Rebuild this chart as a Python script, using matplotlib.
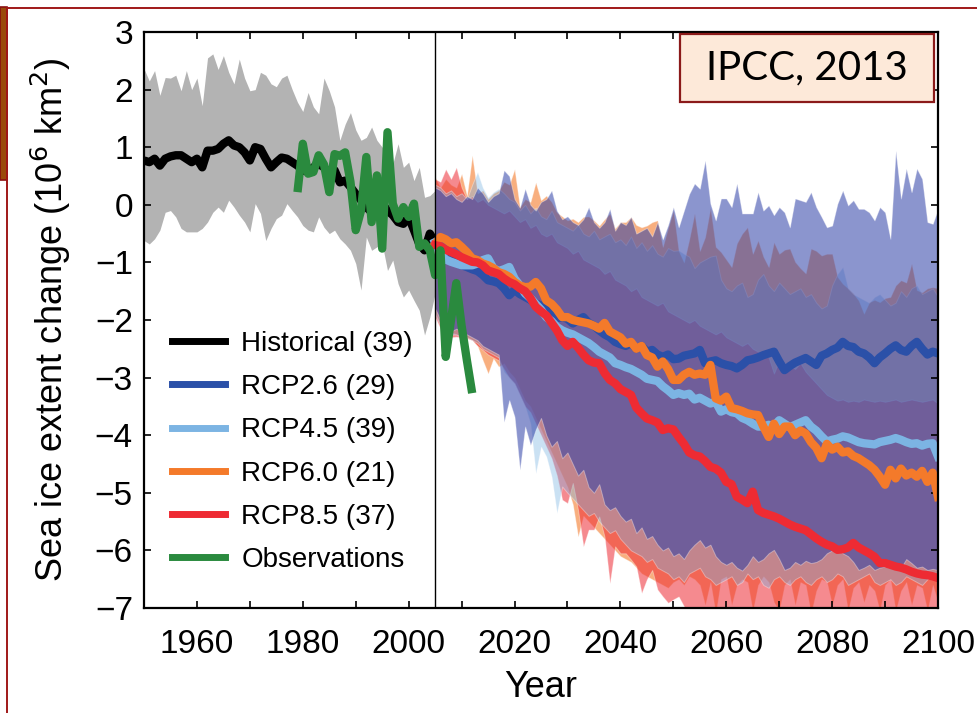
import numpy as np
import matplotlib
import matplotlib.pyplot as plt
from matplotlib.colors import to_rgba
from matplotlib.patches import Rectangle
from matplotlib.lines import Line2D

plt.rcParams['font.family'] = ['Liberation Sans', 'DejaVu Sans']

# ---------------- data ----------------
hist_years = np.arange(1950, 2006)
hist_upper = [2.36, 2.15, 2.33, 1.90, 2.21, 2.20, 2.25, 1.98, 2.33, 2.00,
              2.20, 1.72, 2.55, 2.62, 2.35, 2.59, 2.30, 2.10, 2.53, 2.20,
              1.98, 2.00, 2.30, 2.25, 2.10, 2.05, 2.20, 2.25, 2.00, 1.78,
              1.62, 1.95, 1.70, 1.58, 2.20, 1.98, 1.70, 1.12, 1.40, 1.60,
              1.30, 1.12, 1.17, 1.35, 1.12, 1.00, 1.00, 0.71, 1.06, 0.65,
              0.74, 0.42, 0.65, 0.13, 0.16, 0.25]
hist_lower = [-0.62, -0.68, -0.59, -0.44, -0.13, -0.10, -0.21, -0.41, -0.47, -0.47,
              -0.47, -0.41, -0.30, -0.13, -0.04, -0.13, 0.08, -0.04, -0.18, -0.30,
              -0.47, 0.02, -0.15, -0.62, -0.41, -0.24, -0.18, 0.02, -0.10, -0.21,
              -0.36, -0.44, -0.47, -0.21, -0.39, -0.50, -0.44, -0.59, -0.68, -0.79,
              -1.02, -1.48, -0.56, -0.79, -0.73, -0.68, -1.14, -0.96, -1.37, -1.60,
              -1.48, -1.66, -1.83, -2.26, -1.95, -1.54]
hist_mean = [0.77, 0.74, 0.80, 0.68, 0.80, 0.84, 0.86, 0.86, 0.80, 0.74,
             0.80, 0.65, 0.94, 0.94, 0.97, 1.06, 1.12, 1.03, 1.00, 0.91,
             0.77, 1.00, 0.97, 0.80, 0.65, 0.74, 0.82, 0.80, 0.74, 0.68,
             0.60, 0.57, 0.65, 0.71, 0.65, 0.54, 0.60, 0.39, 0.42, 0.31,
             0.19, 0.08, -0.04, -0.13, -0.13, 0.02, -0.10, -0.18, -0.30, -0.33,
             -0.21, -0.44, -0.68, -0.79, -0.50, -0.65]

obs_years = np.arange(1979, 2013)
obs = [0.22, 1.06, 0.54, 0.57, 0.86, 0.70, 0.22, 0.88, 0.85, 0.91,
       0.40, -0.44, -0.10, 0.83, -0.30, 0.51, -0.76, 1.26, 0.02, -0.24,
       -0.04, -0.21, 0.02, -0.73, -0.67, -0.79, -1.22, -0.79, -2.64, -2.00,
       -1.36, -2.10, -2.70, -3.27]

rcp_years = np.arange(2005, 2101)

rcp26_mean = [-0.65, -0.80, -0.90, -0.95, -1.00,
              -1.05, -1.08, -1.12, -1.15, -1.22, -1.31, -1.33, -1.36, -1.45, -1.57,
              -1.48, -1.55, -1.60, -1.65, -1.71, -1.75, -1.82, -1.90, -1.97, -1.95,
              -1.98, -2.06, -2.00, -1.95, -2.05, -2.10, -2.18, -2.25, -2.30, -2.38,
              -2.42, -2.45, -2.40, -2.50, -2.45, -2.55, -2.52, -2.60, -2.64, -2.60,
              -2.68, -2.67, -2.62, -2.60, -2.58, -2.52, -2.75, -2.72, -2.70, -2.75,
              -2.78, -2.80, -2.84, -2.78, -2.70, -2.68, -2.65, -2.61, -2.58, -2.55,
              -2.72, -2.87, -2.80, -2.74, -2.70, -2.66, -2.72, -2.78, -2.62, -2.58,
              -2.52, -2.48, -2.38, -2.45, -2.47, -2.55, -2.58, -2.65, -2.75, -2.65,
              -2.58, -2.50, -2.44, -2.52, -2.55, -2.45, -2.38, -2.50, -2.60, -2.55,
              -2.58]
rcp45_mean = [-0.65, -0.85, -0.95, -0.99, -1.02,
              -1.05, -1.05, -1.05, -1.02, -0.96, -0.93, -1.10, -1.15, -1.12, -1.08,
              -1.28, -1.40, -1.54, -1.62, -1.72, -1.82, -1.95, -2.02, -2.12, -2.18,
              -2.22, -2.25, -2.30, -2.35, -2.40, -2.47, -2.55, -2.60, -2.65, -2.75,
              -2.78, -2.82, -2.85, -2.90, -2.95, -3.02, -3.04, -3.06, -3.15, -3.22,
              -3.30, -3.27, -3.30, -3.28, -3.38, -3.35, -3.40, -3.45, -3.42, -3.59,
              -3.55, -3.60, -3.62, -3.70, -3.74, -3.80, -3.85, -3.85, -3.82, -3.84,
              -3.74, -3.80, -3.86, -3.82, -3.78, -3.74, -3.85, -3.92, -4.02, -4.11,
              -4.08, -4.06, -4.02, -4.04, -4.08, -4.12, -4.14, -4.15, -4.16, -4.12,
              -4.10, -4.08, -4.05, -4.08, -4.12, -4.15, -4.14, -4.18, -4.15, -4.14,
              -4.37]
rcp60_mean = [-0.68, -0.56, -0.60, -0.67, -0.65,
              -0.73, -0.82, -0.93, -0.96, -1.02, -1.05, -1.10, -1.17, -1.20, -1.25,
              -1.34, -1.40, -1.43, -1.42, -1.34, -1.45, -1.66, -1.72, -1.82, -1.95,
              -1.95, -2.00, -2.02, -2.04, -2.06, -2.10, -2.15, -2.05, -2.20, -2.25,
              -2.30, -2.41, -2.38, -2.50, -2.45, -2.61, -2.65, -2.81, -2.72, -2.85,
              -3.04, -3.04, -2.95, -2.90, -2.95, -2.93, -2.95, -2.78, -3.36, -3.40,
              -3.33, -3.53, -3.55, -3.58, -3.62, -3.64, -3.65, -3.85, -4.03, -3.80,
              -3.98, -3.85, -3.85, -4.00, -3.92, -3.97, -4.12, -4.22, -4.40, -4.15,
              -4.25, -4.20, -4.30, -4.28, -4.36, -4.40, -4.46, -4.52, -4.60, -4.72,
              -4.86, -4.60, -4.75, -4.58, -4.70, -4.65, -4.72, -4.62, -4.81, -4.65,
              -5.07]
rcp85_mean = [-0.70, -0.72, -0.78, -0.82, -0.86,
              -0.91, -0.95, -0.99, -1.00, -1.05, -1.14, -1.17, -1.20, -1.28, -1.34,
              -1.38, -1.45, -1.50, -1.62, -1.77, -1.85, -1.92, -2.05, -2.18, -2.35,
              -2.45, -2.38, -2.48, -2.60, -2.70, -2.74, -2.75, -2.92, -3.04, -3.10,
              -3.20, -3.25, -3.30, -3.52, -3.62, -3.71, -3.74, -3.78, -3.91, -3.88,
              -3.90, -4.03, -4.15, -4.30, -4.35, -4.37, -4.45, -4.55, -4.58, -4.65,
              -4.81, -4.85, -5.07, -5.12, -5.18, -4.98, -5.30, -5.35, -5.38, -5.41,
              -5.45, -5.50, -5.55, -5.59, -5.62, -5.65, -5.72, -5.79, -5.85, -5.90,
              -5.93, -5.99, -5.98, -5.95, -5.87, -5.95, -6.00, -6.05, -6.11, -6.22,
              -6.22, -6.25, -6.28, -6.30, -6.33, -6.37, -6.40, -6.42, -6.43, -6.45,
              -6.48]

rcp26_upper = [0.30, 0.25, 0.15, 0.20, 0.10,
               0.05, 0.15, 0.10, 0.30, 0.20, 0.05, 0.15, 0.20, 0.60, 0.50,
               0.10, -0.05, 0.28, 0.00, -0.10, 0.05, 0.10, 0.25, -0.10, -0.25,
               -0.20, -0.30, -0.35, -0.25, -0.04, -0.30, -0.40, -0.30, -0.07, -0.45,
               -0.30, -0.35, -0.21, -0.50, -0.45, -0.40, -0.55, -0.30, -0.60, -0.35,
               -0.04, -0.39, -0.10, 0.19, 0.37, 0.28, 0.77, 0.02, -0.27, 0.11,
               0.11, -0.04, 0.37, -0.15, -0.15, -0.15, 0.22, -0.10, -0.01, -0.18,
               -0.04, -0.13, -0.39, 0.11, 0.08, 0.05, 0.22, -0.04, -0.21, -0.39,
               -0.36, 0.02, 0.25, -0.01, 0.08, -0.07, -0.07, -0.13, -0.27, -0.04,
               -0.13, -0.59, 0.94, 0.11, 0.63, 0.22, 0.63, 0.45, -0.30, -0.33,
               -0.07]
rcp26_lower = [-1.80, -2.00, -2.10, -2.20, -2.15,
               -2.20, -2.25, -2.30, -2.35, -2.45, -2.50, -2.55, -2.60, -3.77, -3.39,
               -3.68, -4.60, -3.85, -4.17, -3.90, -3.70, -4.00, -4.20, -4.10, -4.40,
               -4.30, -4.50, -4.70, -4.60, -4.90, -5.00, -4.85, -5.20, -5.30, -5.25,
               -5.40, -5.50, -5.45, -5.70, -5.60, -5.80, -5.75, -5.90, -6.00, -5.95,
               -6.10, -6.05, -6.15, -6.00, -5.90, -5.82, -5.95, -5.90, -6.10, -6.20,
               -6.25, -6.20, -6.30, -6.35, -6.25, -6.10, -6.20, -6.15, -6.05, -5.99,
               -6.15, -6.34, -6.30, -6.20, -6.25, -6.18, -6.22, -6.20, -6.15, -6.05,
               -6.00, -5.93, -6.05, -6.10, -6.20, -6.34, -6.30, -6.25, -6.34, -6.30,
               -6.28, -6.20, -6.25, -6.30, -6.15, -6.22, -6.30, -6.28, -6.34, -6.32,
               -6.34]
rcp45_upper = [0.35, 0.30, 0.20, 0.25, 0.15,
               0.20, 0.10, 0.35, 0.57, 0.30, 0.13, 0.22, 0.28, 0.20, 0.10,
               0.05, -0.10, 0.00, -0.15, -0.05, -0.20, -0.25, -0.10, -0.30, -0.35,
               -0.40, -0.45, -0.35, -0.50, -0.55, -0.45, -0.60, -0.55, -0.50, -0.65,
               -0.60, -0.70, -0.55, -0.75, -0.65, -0.80, -0.70, -0.85, -0.90, -0.75,
               -0.80, -0.79, -0.85, -0.90, -1.10, -1.00, -0.95, -0.90, -0.88, -1.30,
               -1.45, -1.50, -1.40, -1.35, -1.60, -1.55, -1.30, -1.20, -1.40, -1.50,
               -1.35, -1.45, -1.55, -1.50, -1.45, -1.60, -1.55, -1.70, -1.80, -1.75,
               -1.40, -1.20, -1.08, -1.45, -1.55, -1.60, -1.65, -1.70, -1.60, -1.55,
               -1.65, -1.75, -1.70, -1.50, -1.60, -1.45, -1.40, -1.55, -1.50, -1.45,
               -1.60]
rcp45_lower = [-1.90, -2.10, -2.20, -2.25, -2.25,
               -2.30, -2.30, -2.35, -2.40, -2.50, -2.55, -2.60, -2.65, -2.90, -3.00,
               -3.10, -3.30, -3.50, -3.80, -4.66, -4.20, -4.37, -4.72, -5.35, -4.89,
               -5.00, -5.10, -5.20, -5.30, -5.40, -5.35, -5.50, -5.60, -5.70, -5.65,
               -5.80, -5.90, -6.00, -6.05, -6.10, -6.20, -6.15, -6.30, -6.35, -6.40,
               -6.50, -6.45, -6.55, -6.40, -6.35, -6.30, -6.45, -6.50, -6.60, -6.55,
               -6.50, -6.45, -6.60, -6.55, -6.40, -6.50, -6.45, -6.60, -6.65, -6.50,
               -6.45, -6.55, -6.60, -6.50, -6.45, -6.55, -6.60, -6.50, -6.45, -6.55,
               -6.50, -6.40, -6.45, -6.60, -6.55, -6.50, -6.45, -6.40, -6.55, -6.60,
               -6.55, -6.50, -6.60, -6.55, -6.45, -6.50, -6.55, -6.60, -6.50, -6.45,
               -6.50]
rcp60_upper = [0.48, 0.30, 0.45, 0.35, 0.30,
               0.54, 0.16, 0.86, 0.20, 0.25, 0.10, 0.20, 0.25, 0.40, 0.35,
               0.62, -0.04, 0.10, 0.05, 0.39, 0.08, 0.16, 0.05, -0.13, -0.20,
               -0.27, -0.24, -0.30, -0.21, -0.20, -0.27, -0.36, -0.25, -0.15, -0.41,
               -0.30, -0.30, -0.21, -0.35, -0.39, -0.36, -0.30, -0.27, -0.73, -0.40,
               -0.10, -0.80, -1.00, -0.60, -0.15, -0.80, -0.56, -0.05, -0.73, -0.82,
               -0.95, -1.08, -0.67, -0.50, -0.39, -0.85, -0.62, -0.90, -1.08, -0.65,
               -0.85, -0.78, -0.76, -0.99, -1.10, -1.19, -0.76, -0.80, -0.88, -0.85,
               -0.85, -1.25, -1.37, -1.45, -1.54, -1.66, -1.89, -1.69, -1.65, -1.69,
               -1.62, -1.60, -1.40, -1.31, -1.35, -1.02, -1.48, -1.52, -1.45, -1.43,
               -1.45]
rcp60_lower = [-1.85, -2.05, -2.15, -2.20, -2.25,
               -2.28, -2.30, -2.35, -2.45, -2.70, -2.93, -2.67, -2.81, -2.75, -2.90,
               -3.00, -3.20, -3.40, -3.50, -3.70, -3.90, -4.10, -4.30, -4.50, -4.70,
               -4.90, -5.20, -5.76, -5.40, -5.50, -5.60, -5.70, -5.80, -5.90, -6.00,
               -6.10, -6.15, -6.20, -6.30, -6.40, -6.45, -6.50, -6.55, -6.60, -6.65,
               -6.55, -6.50, -6.60, -6.45, -6.50, -6.60, -6.95, -6.55, -7.10, -6.50,
               -6.45, -6.95, -6.60, -6.50, -6.55, -7.05, -6.60, -6.45, -6.55, -6.90,
               -7.05, -6.60, -6.50, -6.95, -6.55, -6.60, -7.10, -6.70, -6.50, -6.55,
               -6.95, -6.60, -6.50, -7.05, -6.65, -6.55, -6.90, -6.60, -6.70, -7.05,
               -6.60, -6.50, -7.05, -6.70, -6.55, -6.95, -6.60, -6.65, -7.05, -6.60,
               -6.90]
rcp85_upper = [0.45, 0.40, 0.62, 0.45, 0.65,
               0.30, 0.10, 0.15, 0.05, 0.10, 0.00, -0.05, -0.10, -0.15, -0.10,
               -0.20, -0.30, -0.25, -0.40, -0.35, -0.50, -0.55, -0.50, -0.65, -0.70,
               -0.75, -0.85, -0.80, -0.95, -1.00, -1.05, -1.10, -1.20, -1.15, -1.30,
               -1.35, -1.40, -1.50, -1.45, -1.60, -1.65, -1.70, -1.75, -1.70, -1.85,
               -1.90, -1.95, -2.00, -2.05, -2.00, -2.10, -2.15, -2.20, -2.25, -2.20,
               -2.30, -2.35, -2.40, -2.45, -2.40, -2.50, -2.55, -2.60, -2.65, -2.93,
               -2.70, -2.75, -2.80, -2.85, -2.75, -2.90, -3.00, -3.10, -3.20, -3.30,
               -3.35, -3.40, -3.38, -3.42, -3.40, -3.42, -3.38, -3.40, -3.42, -3.40,
               -3.42, -3.40, -3.38, -3.42, -3.40, -3.38, -3.40, -3.42, -3.40, -3.38,
               -3.45]
rcp85_lower = [-1.95, -2.15, -2.25, -2.30, -2.29,
               -2.30, -2.32, -2.35, -2.45, -2.52, -2.60, -2.65, -2.70, -2.85, -3.00,
               -3.10, -3.30, -3.50, -3.60, -3.80, -4.00, -4.20, -4.40, -4.70, -5.12,
               -5.18, -4.83, -5.30, -5.93, -5.64, -5.64, -5.41, -5.76, -6.57, -5.93,
               -6.05, -6.05, -6.16, -6.28, -6.74, -6.50, -6.34, -6.68, -6.80, -6.91,
               -6.85, -6.80, -6.97, -7.30, -7.30, -7.30, -7.30, -7.30, -7.30, -7.30,
               -7.30, -7.30, -7.30, -7.30, -7.30, -7.30, -7.30, -7.30, -7.30, -7.30,
               -7.30, -7.30, -7.30, -7.30, -7.30, -7.30, -7.30, -7.30, -7.30, -7.30,
               -7.30, -7.30, -7.30, -7.30, -7.30, -7.30, -7.30, -7.30, -7.30, -7.30,
               -7.30, -7.30, -7.30, -7.30, -7.30, -7.30, -7.30, -7.30, -7.30, -7.30,
               -7.30]

labels = ['Historical (39)', 'RCP2.6 (29)', 'RCP4.5 (39)', 'RCP6.0 (21)',
          'RCP8.5 (37)', 'Observations']

c_hist = 'black'
c26 = '#2b50a8'
c45 = '#7cb4e3'
c60 = '#f47a2a'
c85 = '#ee2b33'
c_obs = '#2a8a3e'

# ---------------- figure ----------------
fig = plt.figure(figsize=(9.78, 7.13), dpi=100)
ax = fig.add_axes([144/978, 1-608/713, (938-144)/978, (608-32)/713])

ax.fill_between(hist_years, hist_lower, hist_upper, color='#b3b3b3', lw=0)

edge = (1, 1, 1, 0.35)
ax.fill_between(rcp_years, rcp60_lower, rcp60_upper, facecolor=to_rgba(c60, 0.6),
                edgecolor=edge, lw=0.7)
ax.fill_between(rcp_years, rcp85_lower, rcp85_upper, facecolor=to_rgba(c85, 0.55),
                edgecolor=edge, lw=0.7)
ax.fill_between(rcp_years, rcp45_lower, rcp45_upper, facecolor=to_rgba(c45, 0.4),
                edgecolor=edge, lw=0.7)
ax.fill_between(rcp_years, rcp26_lower, rcp26_upper, facecolor=to_rgba('#2d3ea6', 0.55),
                edgecolor=edge, lw=0.7)

lw = 6
ax.plot(hist_years, hist_mean, color=c_hist, lw=lw, solid_capstyle='butt')
ax.plot(rcp_years, rcp26_mean, color=c26, lw=lw)
ax.plot(rcp_years, rcp45_mean, color=c45, lw=lw)
ax.plot(rcp_years, rcp60_mean, color=c60, lw=lw)
ax.plot(rcp_years, rcp85_mean, color=c85, lw=lw)
ax.plot(obs_years, obs, color=c_obs, lw=lw, solid_capstyle='butt')

ax.axvline(2005, color='black', lw=1.0)

ax.set_xlim(1950, 2100)
ax.set_ylim(-7, 3)
ax.set_xticks(np.arange(1960, 2101, 20))
ax.set_xticks(np.arange(1950, 2101, 10), minor=True)
ax.set_yticks(np.arange(-7, 4, 1))
ax.tick_params(which='both', direction='in', top=True, right=True,
               length=5, width=1.2, labelsize=24)
ax.tick_params(axis='x', pad=15)
ax.tick_params(axis='y', pad=8)
for s in ax.spines.values():
    s.set_linewidth(1.6)

ax.set_xlabel('Year', fontsize=26, labelpad=7)
ax.set_ylabel('Sea ice extent change (10$^6$ km$^2$)', fontsize=26, labelpad=16)

handles = [Line2D([], [], color=c, lw=5) for c in
           [c_hist, c26, c45, c60, c85, c_obs]]
ax.legend(handles, labels, loc='upper left', bbox_to_anchor=(0.035, 0.481),
          frameon=False, fontsize=20, handlelength=1.9, handletextpad=0.6,
          labelspacing=0.62, borderpad=0, borderaxespad=0)

# IPCC label box
fig.add_artist(Rectangle((680/978, 1-102/713), (934-680)/978, (102-34)/713,
                         transform=fig.transFigure, facecolor='#fde9d9',
                         edgecolor='#8b1a1a', lw=1.6))
fig.text(807/978, 1-68/713, 'IPCC, 2013', ha='center', va='center',
         fontsize=29, family=['Lato', 'DejaVu Sans'])

# page frame decorations
fig.add_artist(Rectangle((0, 1-180/713), 7/978, (180-7)/713,
                         transform=fig.transFigure, facecolor='#9a4a0a',
                         edgecolor='#8b1010', lw=1.2))
fig.add_artist(Line2D([7.5/978, 1], [1-8/713, 1-8/713], transform=fig.transFigure,
                      color='#a01818', lw=1.4))
fig.add_artist(Line2D([7.5/978, 7.5/978], [0, 1-8/713], transform=fig.transFigure,
                      color='#a01818', lw=1.4))

fig.savefig('out.png', dpi=100)
